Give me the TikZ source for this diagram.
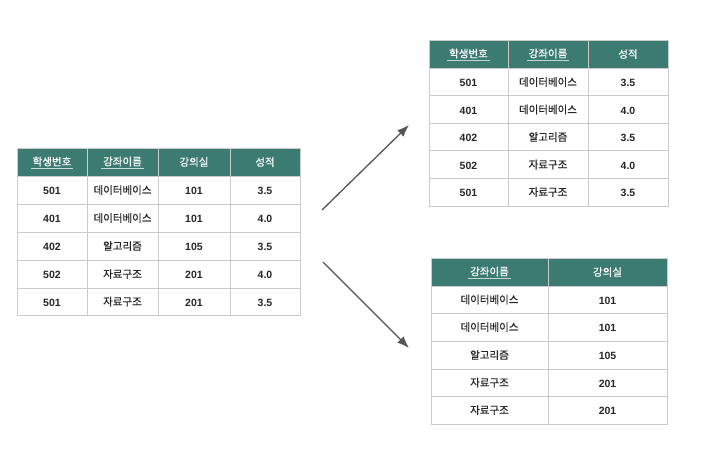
\documentclass[tikz,border=0pt]{standalone}
\usepackage{fontspec}
\setmainfont{Liberation Sans}
\newfontfamily\kr{Noto Sans CJK KR}[FakeBold = 0.7]
\usetikzlibrary{arrows.meta}

\definecolor{headteal}{HTML}{3B7B71}
\definecolor{gridgray}{HTML}{CBCBCB}
\definecolor{arrowgray}{HTML}{555555}

\tikzset{
	headtext/.style = {text = white, font = \kr\fontsize{10.5}{12}\selectfont},
	keytext/.style = {headtext, inner sep = 1.5pt,
		append after command = {(\tikzlastnode.south west) edge [draw = white!70!headteal, line width = 0.8pt] (\tikzlastnode.south east)}},
	numtext/.style = {font = \bfseries\fontsize{10.5}{12}\selectfont, text = black!85},
	wordtext/.style = {font = \kr\fontsize{10.5}{12}\selectfont, text = black!85},
	grid line/.style = {draw = gridgray, line width = 0.8pt}
}

\begin{document}
\begin{tikzpicture}[x = 1pt, y = -1pt, > = {Latex[length = 12pt, width = 9pt]}]

	\useasboundingbox (0, 0) rectangle (711, 455);

	% Original table

	\fill [headteal] (17, 148) rectangle (300, 176);
	\foreach \y in {176, 204, 232, 260, 288}
		\draw [grid line] (17, \y) -- (300, \y);
	\foreach \x in {87, 158, 230}
		\draw [grid line] (\x, 148) -- (\x, 315);
	\draw [grid line] (17, 148) rectangle (300, 315);

	\node [keytext] (l-h1) at (52, 161.5) {학생번호};
	\node [keytext] (l-h2) at (122.5, 161.5) {강좌이름};
	\node [headtext] (l-h3) at (194, 162) {강의실};
	\node [headtext] (l-h4) at (265, 162) {성적};

	\foreach \y/\n/\c/\r/\g [count = \i] in {190/501/데이터베이스/101/3.5, 218/401/데이터베이스/101/4.0, 246/402/알고리즘/105/3.5, 274/502/자료구조/201/4.0, 301.5/501/자료구조/201/3.5} {
		\node [numtext] (l-\i-1) at (52, \y + 1) {\n};
		\node [wordtext] (l-\i-2) at (122.5, \y) {\c};
		\node [numtext] (l-\i-3) at (194, \y + 1) {\r};
		\node [numtext] (l-\i-4) at (265, \y + 1) {\g};
	}

	% Upper table

	\fill [headteal] (429, 40) rectangle (668, 68);
	\foreach \y in {68, 95.7, 123.3, 150.7, 178.3}
		\draw [grid line] (429, \y) -- (668, \y);
	\foreach \x in {508, 588}
		\draw [grid line] (\x, 40) -- (\x, 206);
	\draw [grid line] (429, 40) rectangle (668, 206);

	\node [keytext] (u-h1) at (468.5, 53.5) {학생번호};
	\node [keytext] (u-h2) at (548, 53.5) {강좌이름};
	\node [headtext] (u-h3) at (628, 54) {성적};

	\foreach \y/\n/\c/\g [count = \i] in {82/501/데이터베이스/3.5, 109.5/401/데이터베이스/4.0, 137/402/알고리즘/3.5, 164.5/502/자료구조/4.0, 192/501/자료구조/3.5} {
		\node [numtext] (u-\i-1) at (468.5, \y + 1) {\n};
		\node [wordtext] (u-\i-2) at (548, \y) {\c};
		\node [numtext] (u-\i-3) at (628, \y + 1) {\g};
	}

	% Lower table

	\fill [headteal] (431, 258) rectangle (667, 286);
	\foreach \y in {286, 313.5, 341, 369, 396.5}
		\draw [grid line] (431, \y) -- (667, \y);
	\draw [grid line] (548, 258) -- (548, 424);
	\draw [grid line] (431, 258) rectangle (667, 424);

	\node [keytext] (d-h1) at (489.5, 271.5) {강좌이름};
	\node [headtext] (d-h2) at (607.5, 272) {강의실};

	\foreach \y/\c/\r [count = \i] in {299.5/데이터베이스/101, 327/데이터베이스/101, 355/알고리즘/105, 382.5/자료구조/201, 410/자료구조/201} {
		\node [wordtext] (d-\i-1) at (489.5, \y) {\c};
		\node [numtext] (d-\i-2) at (607.5, \y + 1) {\r};
	}

	% Decomposition arrows

	\coordinate (up-from) at (322, 210);
	\coordinate (up-to) at (409, 125);
	\coordinate (down-from) at (323, 262);
	\coordinate (down-to) at (409, 348);

	\begin{scope}[->, draw = arrowgray, line width = 1.3pt]
		\draw (up-from) -- (up-to);
		\draw (down-from) -- (down-to);
	\end{scope}

\end{tikzpicture}
\end{document}
